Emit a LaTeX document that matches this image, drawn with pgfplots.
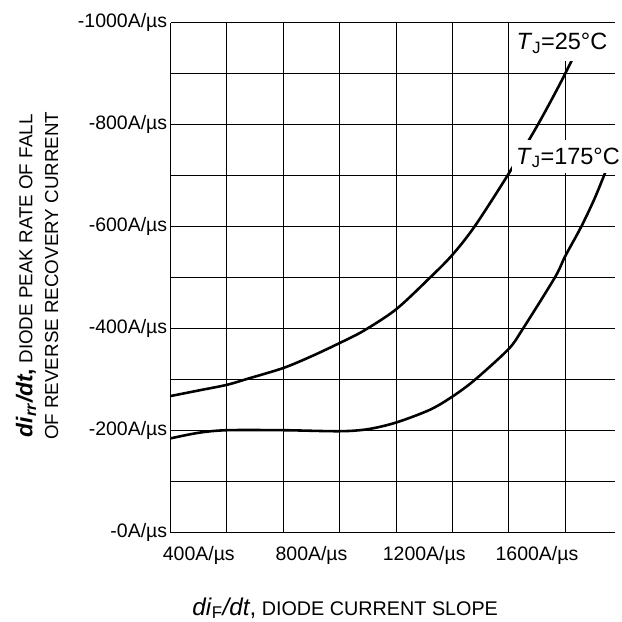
\documentclass[border=0pt]{standalone}
\usepackage{pgfplots}
\pgfplotsset{compat=1.18}
\usepackage{fontspec}
\setmainfont{Liberation Sans}

\begin{document}
\begin{tikzpicture}
\begin{axis}[
  at={(0,0)}, anchor=south west,
  scale only axis, width=448bp, height=514bp,
  xmin=300, xmax=1877, ymin=0, ymax=1000,
  axis x line*=bottom, axis y line*=left,
  axis line style={-, black, line width=1bp},
  major tick length=0pt, minor tick length=0pt,
  xtick={400,800,1200,1600},
  xticklabels={400A/µs,800A/µs,1200A/µs,1600A/µs},
  minor xtick={300,500,...,1700},
  xmajorgrids=false, xminorgrids=true,
  ytick={0,200,...,1000},
  yticklabels={-0A/µs,-200A/µs,-400A/µs,-600A/µs,-800A/µs,-1000A/µs},
  minor ytick={100,300,...,900},
  ymajorgrids=true, yminorgrids=true,
  major grid style={black, line width=1bp},
  minor grid style={black, line width=1bp},
  ticklabel style={font=\fontsize{19.7}{21}\selectfont},
  xticklabel style={yshift=-10bp},
  clip=true,
]
% T_J = 25 C
\addplot[black, line width=2.6bp, smooth] coordinates {
  (300,268) (400,279) (500,290) (574,302) (700,323) (800,346) (900,372)
  (985,396) (1100,438) (1220,500) (1300,545) (1378,600) (1495,700)
  (1603,800) (1700,900) (1786,1000) (1820,1045)
};
% T_J = 175 C
\addplot[black, line width=2.6bp, smooth] coordinates {
  (300,185) (400,196) (500,201) (700,201) (900,199) (1000,203) (1100,216)
  (1220,241) (1300,267) (1378,299) (1499,360) (1549,399) (1663,500)
  (1700,542) (1757,600) (1805,656) (1848,714) (1880,755)
};
\coordinate (lab25) at (axis cs:1520,960);
\coordinate (lab175) at (axis cs:1518,735);
\end{axis}
% white patches behind the curve labels
\fill[white] ([xshift=-2bp,yshift=-18bp]lab25) rectangle ++(96bp,38bp);
\fill[white] ([xshift=-2bp,yshift=-15.5bp]lab175) rectangle ++(110bp,34bp);
\node[inner sep=2bp, anchor=west, font=\fontsize{23.8}{25}\selectfont]
  at (lab25) {\textit{T}\textsubscript{J}=25°C};
\node[inner sep=2bp, anchor=west, font=\fontsize{23.8}{25}\selectfont]
  at (lab175) {\textit{T}\textsubscript{J}=175°C};
% axis titles
\node[anchor=base, font=\fontsize{20}{20}\selectfont] at (176bp,-83bp)
  {{\fontsize{24.5}{24}\selectfont\textit{di}\textsubscript{F}\textit{/dt},} DIODE CURRENT SLOPE};
\node[rotate=90, anchor=center, align=center, font=\fontsize{19}{26}\selectfont] at (-134.5bp,259bp)
  {{\fontsize{23}{23}\selectfont\textbf{\textit{di}\textsubscript{\textit{rr}}\textit{/dt},}} DIODE PEAK RATE OF FALL\\
   OF REVERSE RECOVERY CURRENT};
\path[use as bounding box] (-172bp,-85bp) rectangle (448bp,537bp);
\end{tikzpicture}
\end{document}
